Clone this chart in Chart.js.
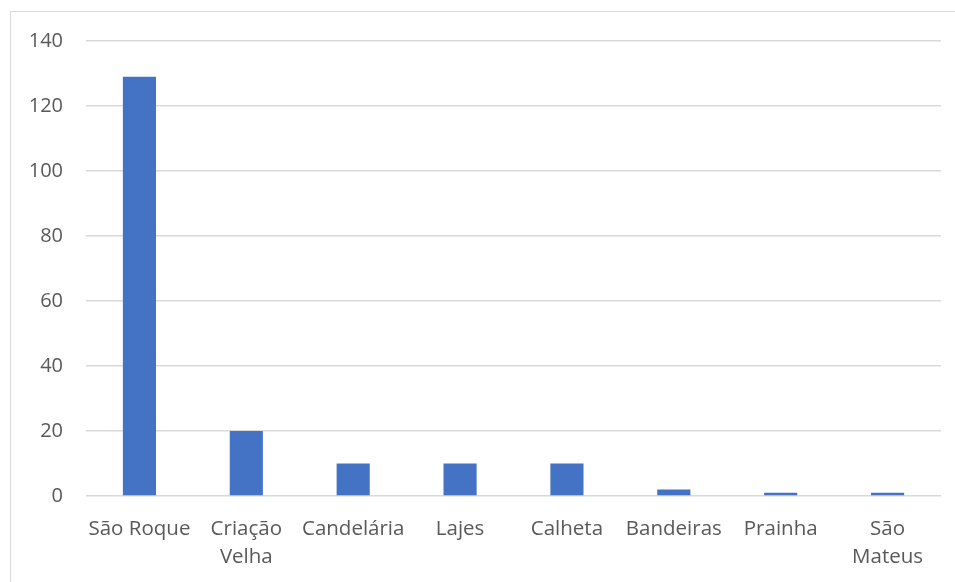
<!DOCTYPE html>
<html>
<head>
<meta charset="utf-8">
<script src="https://cdn.jsdelivr.net/npm/chart.js@4.4.0/dist/chart.umd.min.js"></script>
<style>
  html, body { margin: 0; padding: 0; background: #fff; overflow: hidden; }
  #frame {
    position: absolute; left: 10px; top: 11px;
    width: 1000px; height: 620px;
    border: 1.5px solid #d9d9d9;
  }
  #wrap { position: absolute; left: 0; top: 0; width: 955px; height: 582px; }
</style>
</head>
<body>
<div id="frame"></div>
<div id="wrap"><canvas id="myChart"></canvas></div>
<script>
var categories = ["São Roque", ["Criação", "Velha"], "Candelária", "Lajes", "Calheta", "Bandeiras", "Prainha", ["São", "Mateus"]];
var values = [129, 20, 10, 10, 10, 2, 1, 1];
var yTicks = [0, 20, 40, 60, 80, 100, 120, 140];

var ctx = document.getElementById("myChart").getContext('2d');

var myChart = new Chart(ctx, {
    type: 'bar',
    data: {
        labels: categories,
        datasets: [{
            data: values,
            backgroundColor: '#4472C4',
            borderWidth: 0,
            categoryPercentage: 1,
            barPercentage: 0.31
        }]
    },
    options: {
      responsive: true,
      maintainAspectRatio: false,
      animation: false,
      layout: { padding: { top: 41, right: 14, left: 0, bottom: 0 } },
      plugins: { legend: { display: false }, tooltip: { enabled: false } },
      scales: {
        x: {
          grid: { display: false },
          border: { display: false },
          ticks: {
            color: '#595959',
            font: { family: 'Open Sans', size: 20.5, lineHeight: 1.36 },
            padding: 11,
            maxRotation: 0,
            autoSkip: false
          },
          afterFit: function (scale) { scale.height = 86; }
        },
        y: {
          min: 0,
          max: yTicks[yTicks.length - 1],
          afterBuildTicks: function (scale) {
            scale.ticks = yTicks.map(function (v) { return { value: v }; });
          },
          grid: { color: '#d9d9d9', lineWidth: 1.5, drawTicks: false },
          border: { display: false },
          ticks: {
            color: '#595959',
            font: { family: 'Open Sans', size: 20 },
            padding: 23
          },
          afterFit: function (scale) { scale.width = 86; }
        }
      }
    }
});
</script>
</body>
</html>
